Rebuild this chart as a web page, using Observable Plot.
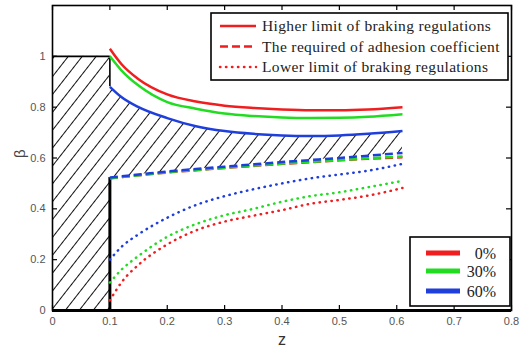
<!DOCTYPE html>
<html>
<head>
<meta charset="utf-8">
<script src="https://cdn.jsdelivr.net/npm/d3@7"></script>
<script src="https://cdn.jsdelivr.net/npm/@observablehq/plot@0.6"></script>
<style>
  html, body { margin: 0; padding: 0; background: #fff; }
  #chart svg { display: block; }
  #chart text.serif { font-family: 'Liberation Serif', 'Times New Roman', serif !important; }
</style>
</head>
<body>
<div id="chart"></div>
<script>
// ---- data ----
const z = [0.1, 0.12, 0.15, 0.2, 0.25, 0.3, 0.35, 0.4, 0.45, 0.5, 0.55, 0.61];

// Higher limit of braking regulations (solid)
const upper0  = [1.03, 0.97, 0.91, 0.85, 0.822, 0.806, 0.797, 0.791, 0.788, 0.788, 0.791, 0.80];
const upper30 = [1.0, 0.945, 0.885, 0.82, 0.794, 0.775, 0.765, 0.759, 0.757, 0.758, 0.762, 0.772];
const upper60 = [0.88, 0.84, 0.80, 0.757, 0.725, 0.706, 0.695, 0.689, 0.687, 0.689, 0.695, 0.706];

// The required of adhesion coefficient (dashed)
const req0  = [0.52, 0.525, 0.532, 0.543, 0.552, 0.561, 0.569, 0.577, 0.584, 0.591, 0.597, 0.603];
const req30 = [0.52, 0.525, 0.532, 0.544, 0.553, 0.562, 0.570, 0.578, 0.585, 0.592, 0.599, 0.606];
const req60 = [0.523, 0.528, 0.535, 0.547, 0.557, 0.566, 0.575, 0.584, 0.592, 0.600, 0.609, 0.62];

// Lower limit of braking regulations (dotted)
const lower0  = [0.04, 0.11, 0.18, 0.26, 0.315, 0.35, 0.373, 0.395, 0.42, 0.435, 0.452, 0.482];
const lower30 = [0.11, 0.16, 0.215, 0.29, 0.34, 0.375, 0.40, 0.428, 0.45, 0.465, 0.485, 0.51];
const lower60 = [0.2, 0.25, 0.30, 0.365, 0.415, 0.45, 0.477, 0.50, 0.52, 0.535, 0.55, 0.577];

const loads = ["0%", "30%", "60%"];
const limitLabels = ["Higher limit of braking regulations", "The required of adhesion coefficient", "Lower limit of braking regulations"];

const xTicks = [0, 0.1, 0.2, 0.3, 0.4, 0.5, 0.6, 0.7, 0.8];
const yTicks = [0, 0.2, 0.4, 0.6, 0.8, 1];
const xDomain = [0, 0.8];
const yDomain = [0, 1.2];

// hatched box on the left (z from 0 to 0.1, beta from 0 to 1)
const zMin = 0.1;
const betaMax = 1;

// ---- styling ----
const colors = {"0%": "#f01e1e", "30%": "#22dc22", "60%": "#1f3fdc"};
const styles = [
  {dash: null, cap: "butt"},
  {dash: "8,4", cap: "butt"},
  {dash: "0.4,5.6", cap: "round"}
];

// ---- build tables ----
const mk = (arr, load) => arr.map((v, i) => ({z: z[i], beta: v, load}));
const upperData = [...mk(upper0, "0%"), ...mk(upper30, "30%"), ...mk(upper60, "60%")];
const reqData   = [...mk(req0, "0%"), ...mk(req30, "30%"), ...mk(req60, "60%")];
const lowerData = [...mk(lower0, "0%"), ...mk(lower30, "30%"), ...mk(lower60, "60%")];
const bandData  = z.map((zz, i) => ({z: zz, lo: req60[i], hi: upper60[i]}));

const W = 521, H = 356;
const mL = 52, mR = 10, mT = 5, mB = 46;
const tickLenX = 5 * (xDomain[1] - xDomain[0]) / (W - mL - mR);
const tickLenY = 5 * (yDomain[1] - yDomain[0]) / (H - mT - mB);

const lineOpts = (s) => ({
  x: "z", y: "beta", z: "load",
  stroke: d => colors[d.load],
  strokeWidth: 2.5,
  strokeDasharray: s.dash,
  strokeLinecap: s.cap,
  curve: "monotone-x"
});

const plot = Plot.plot({
  width: W, height: H,
  marginLeft: mL, marginRight: mR, marginTop: mT, marginBottom: mB,
  style: {fontFamily: "'Liberation Sans', Arial, sans-serif", fontSize: "11px", color: "#555", background: "#fff"},
  x: {domain: xDomain, ticks: xTicks, tickSize: 0, tickPadding: 7, tickFormat: d3.format("~g"), label: null},
  y: {domain: yDomain, ticks: yTicks, tickSize: 0, tickPadding: 7, tickFormat: d3.format("~g"), label: null},
  marks: [
    // hatched regions
    Plot.rect([{x1: xDomain[0], x2: zMin, y1: yDomain[0], y2: betaMax}], {x1: "x1", x2: "x2", y1: "y1", y2: "y2", fill: "url(#hatch)"}),
    Plot.areaY(bandData, {x: "z", y1: "lo", y2: "hi", fill: "url(#hatch)", curve: "monotone-x"}),
    // black boundaries
    Plot.ruleY([betaMax], {x1: xDomain[0], x2: zMin, stroke: "#000", strokeWidth: 1.6}),
    Plot.ruleX([zMin], {y1: upper60[0], y2: betaMax, stroke: "#000", strokeWidth: 1.6}),
    Plot.ruleX([zMin], {y1: yDomain[0], y2: req60[0], stroke: "#000", strokeWidth: 3}),
    // curves
    Plot.line(lowerData, lineOpts(styles[2])),
    Plot.line(reqData, lineOpts(styles[1])),
    Plot.line(upperData, lineOpts(styles[0])),
    // inward ticks on all four sides
    Plot.ruleX(xTicks, {y1: yDomain[0], y2: yDomain[0] + tickLenY, stroke: "#000", strokeWidth: 1.2}),
    Plot.ruleX(xTicks, {y1: yDomain[1], y2: yDomain[1] - tickLenY, stroke: "#000", strokeWidth: 1.2}),
    Plot.ruleY(yTicks, {x1: xDomain[0], x2: xDomain[0] + tickLenX, stroke: "#000", strokeWidth: 1.2}),
    Plot.ruleY(yTicks, {x1: xDomain[1], x2: xDomain[1] - tickLenX, stroke: "#000", strokeWidth: 1.2}),
    Plot.frame({stroke: "#000", strokeWidth: 1.6}),
    Plot.ruleY([yDomain[0]], {stroke: "#000", strokeWidth: 3}),
    // axis labels
    Plot.text(["z"], {frameAnchor: "bottom", dy: 34, fontSize: 16, fill: "#333"}),
    Plot.text(["β"], {frameAnchor: "left", dx: -32, rotate: -90, fontSize: 15, fill: "#444"})
  ]
});

// hatch pattern
const svg = d3.select(plot);
const defs = svg.insert("defs", ":first-child");
const pat = defs.append("pattern")
  .attr("id", "hatch")
  .attr("patternUnits", "userSpaceOnUse")
  .attr("width", 11).attr("height", 11)
  .attr("patternTransform", "rotate(38)");
pat.append("line").attr("x1", 0.5).attr("y1", 0).attr("x2", 0.5).attr("y2", 11)
  .attr("stroke", "#111").attr("stroke-width", 1);

// legend 1 (line styles)
const lg1 = svg.append("g");
lg1.append("rect").attr("x", 211).attr("y", 13).attr("width", 297).attr("height", 67)
  .attr("fill", "#fff").attr("stroke", "#000").attr("stroke-width", 1.6);
limitLabels.forEach((t, i) => {
  const y = 26 + i * 20.5;
  lg1.append("line").attr("x1", 220).attr("x2", 256).attr("y1", y).attr("y2", y)
    .attr("stroke", colors["0%"]).attr("stroke-width", 2.5)
    .attr("stroke-linecap", styles[i].cap)
    .attr("stroke-dasharray", styles[i].dash);
  lg1.append("text").attr("class", "serif").attr("x", 262).attr("y", y + 5).text(t)
    .style("text-anchor", "start")
    .style("letter-spacing", "0.35px")
    .style("font-size", "15.5px").style("fill", "#222");
});

// legend 2 (loads)
const lg2 = svg.append("g");
lg2.append("rect").attr("x", 410).attr("y", 237).attr("width", 100).attr("height", 69)
  .attr("fill", "#fff").attr("stroke", "#000").attr("stroke-width", 1.6);
const rowY = [253, 271, 291];
loads.forEach((l, i) => {
  lg2.append("line").attr("x1", 426).attr("x2", 460).attr("y1", rowY[i]).attr("y2", rowY[i])
    .attr("stroke", colors[l]).attr("stroke-width", 5);
  lg2.append("text").attr("class", "serif").attr("x", 496).attr("y", rowY[i] + 5.5).text(l)
    .style("text-anchor", "end")
    .style("font-size", "16px").style("fill", "#222");
});

document.getElementById("chart").appendChild(plot);
</script>
</body>
</html>
